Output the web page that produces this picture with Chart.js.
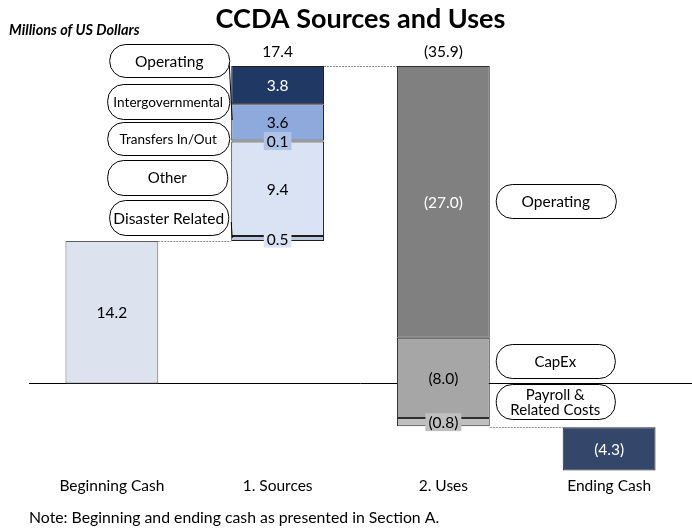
<!DOCTYPE html>
<html><head><meta charset="utf-8">
<script src="https://cdn.jsdelivr.net/npm/chart.js@4.4.1/dist/chart.umd.min.js"></script>
<style>html,body{margin:0;padding:0;background:#fff}#wrap{width:692px;height:531px;position:relative}</style>
</head><body><div id="wrap"><canvas id="c"></canvas></div>
<script>
// ---- data ----
const categories = ['Beginning Cash', '1. Sources', '2. Uses', 'Ending Cash'];
const beginningCash = 14.2;
const sourceNames = ['Disaster Related', 'Other', 'Transfers In/Out', 'Intergovernmental', 'Operating'];
const sourceValues = [0.5, 9.4, 0.1, 3.6, 3.8];
const sourcesTotal = 17.4;
const useNames = ['Operating', 'CapEx', 'Payroll & Related Costs'];
const useValues = [-27.0, -8.0, -0.8];
const usesTotal = -35.9;
const endingCash = -4.3;

// ---- styles ----
const FONT = 'Lato, "Open Sans", sans-serif';
const sourceFill = ['#B9C6DE', '#DAE3F3', '#8EA9DB', '#8EA9DB', '#203864'];
const sourceText = ['#000', '#000', '#000', '#000', '#fff'];
const sourceLabelBg = ['#DAE3F3', null, '#AFC3E6', null, null];
const useFill = ['#808080', '#A6A6A6', '#BFBFBF'];
const useText = ['#fff', '#000', '#000'];
const useLabelBg = [null, null, '#BFBFBF'];

function fmt(v) { return v < 0 ? '(' + Math.abs(v).toFixed(1) + ')' : v.toFixed(1); }
function rowAt(i, range) { const a = categories.map(() => null); a[i] = range; return a; }

const datasets = [];
datasets.push({ label: categories[0], data: rowAt(0, [0, beginningCash]), backgroundColor: '#DDE3EE',
  borderColor: '#5E5E5E', value: beginningCash, textColor: '#000' });
let level = beginningCash;
sourceValues.forEach((v, k) => {
  datasets.push({ label: sourceNames[k], data: rowAt(1, [level, level + v]), backgroundColor: sourceFill[k],
    borderColor: '#1E1E1E', value: v, textColor: sourceText[k], labelBg: sourceLabelBg[k] });
  level += v;
});
const sourcesTop = beginningCash + sourcesTotal;
level = sourcesTop;
useValues.forEach((v, k) => {
  datasets.push({ label: useNames[k], data: rowAt(2, [level, level + v]), backgroundColor: useFill[k],
    borderColor: '#2E2E2E', value: v, textColor: useText[k], labelBg: useLabelBg[k] });
  level += v;
});
const usesBottom = sourcesTop + usesTotal;
datasets.push({ label: categories[3], data: rowAt(3, [usesBottom, usesBottom + endingCash]), backgroundColor: '#34476A',
  borderColor: '#222', value: endingCash, textColor: '#fff' });

datasets.forEach(d => { d.borderWidth = 1; d.borderSkipped = false; d.grouped = false;
  d.barPercentage = 0.56; d.categoryPercentage = 1; });

// callout layout (pixels, relative to bar edges)
const leftCallouts = [
  { top: 200, h: 35, w: 119, gap: 3, size: 15.5 },
  { top: 160, h: 35, w: 120, gap: 4, size: 15 },
  { top: 122, h: 33, w: 122, gap: 2, size: 13.5 },
  { top: 84, h: 35, w: 122, gap: 2, size: 13.6 },
  { top: 44, h: 33, w: 120, gap: 2, size: 15.5 }
];
const rightCallouts = [
  { top: 184, h: 34, w: 120, gap: 6, size: 15.5 },
  { top: 344, h: 34, w: 119, gap: 6, size: 15 },
  { top: 384, h: 35, w: 119, gap: 6, size: 15 }
];

function roundRect(ctx, x, y, w, h, r) {
  ctx.beginPath();
  ctx.moveTo(x + r, y); ctx.lineTo(x + w - r, y); ctx.arcTo(x + w, y, x + w, y + r, r);
  ctx.lineTo(x + w, y + h - r); ctx.arcTo(x + w, y + h, x + w - r, y + h, r);
  ctx.lineTo(x + r, y + h); ctx.arcTo(x, y + h, x, y + h - r, r);
  ctx.lineTo(x, y + r); ctx.arcTo(x, y, x + r, y, r); ctx.closePath();
}

const decorPlugin = {
  id: 'decor',
  afterDatasetsDraw(chart) {
    const ctx = chart.ctx, ys = chart.scales.y;
    const el = (di, ci) => chart.getDatasetMeta(di).data[ci];
    const nSrc = sourceValues.length, nUse = useValues.length;
    const begin = el(0, 0), srcBottom = el(1, 1), srcTop = el(nSrc, 1);
    const useTop = el(nSrc + 1, 2), useBot = el(nSrc + nUse, 2), endEl = el(nSrc + nUse + 1, 3);
    ctx.save();
    // dotted connectors
    ctx.strokeStyle = '#8C8C8C'; ctx.lineWidth = 1; ctx.setLineDash([2, 1]);
    const conn = (x1, x2, v) => { const y = Math.round(ys.getPixelForValue(v)) + 0.5;
      ctx.beginPath(); ctx.moveTo(x1, y); ctx.lineTo(x2, y); ctx.stroke(); };
    conn(begin.x + begin.width / 2, srcBottom.x - srcBottom.width / 2, beginningCash);
    conn(srcTop.x + srcTop.width / 2, useTop.x - useTop.width / 2, sourcesTop);
    conn(useBot.x + useBot.width / 2, endEl.x - endEl.width / 2, usesBottom);
    ctx.setLineDash([]);
    // value labels
    ctx.textAlign = 'center'; ctx.textBaseline = 'middle';
    ctx.font = '15.5px ' + FONT;
    chart.data.datasets.forEach((d, di) => {
      const ci = d.data.findIndex(v => v !== null);
      const e = el(di, ci);
      const cy = (e.y + e.base) / 2;
      const txt = fmt(d.value);
      if (d.labelBg) {
        const w = ctx.measureText(txt).width + 6;
        ctx.fillStyle = d.labelBg; ctx.fillRect(e.x - w / 2, cy - 9, w, 18);
      }
      ctx.fillStyle = d.textColor; ctx.fillText(txt, e.x, cy + 1);
    });
    // totals above bars
    ctx.fillStyle = '#000';
    ctx.fillText(fmt(sourcesTotal), srcTop.x, srcTop.y - 14);
    ctx.fillText(fmt(usesTotal), useTop.x, useTop.y - 14);
    // callouts
    ctx.strokeStyle = '#000'; ctx.lineWidth = 1;
    const drawBox = (x, y, w, h, text, size) => {
      roundRect(ctx, x + 0.5, y + 0.5, w, h, 16);
      ctx.fillStyle = '#fff'; ctx.fill(); ctx.stroke();
      ctx.fillStyle = '#000'; ctx.font = size + 'px ' + FONT;
      const lines = text.indexOf('& ') > 0 ? text.replace('& ', '&\n').split('\n') : [text];
      const lh = size * 1.0;
      lines.forEach((ln, i) => ctx.fillText(ln, x + w / 2, y + h / 2 + 1 + (i - (lines.length - 1) / 2) * lh));
    };
    // leader lines
    const sl = srcTop.x - srcTop.width / 2;
    ctx.beginPath(); ctx.moveTo(sl - 2, 63); ctx.lineTo(sl + 1, 120); ctx.stroke();
    ctx.beginPath(); ctx.moveTo(sl, 222); ctx.lineTo(sl + 1, 238); ctx.stroke();
    sourceNames.forEach((n, k) => { const c = leftCallouts[k];
      drawBox(sl - c.gap - c.w, c.top, c.w, c.h, n, c.size); });
    const ur = useTop.x + useTop.width / 2;
    useNames.forEach((n, k) => { const c = rightCallouts[k];
      drawBox(ur + c.gap, c.top, c.w, c.h, n, c.size); });
    // units note
    ctx.textAlign = 'left'; ctx.font = 'italic bold 14.5px ' + FONT; ctx.fillStyle = '#000';
    ctx.fillText('Millions of US Dollars', 9, 30);
    ctx.restore();
  }
};

new Chart(document.getElementById('c'), {
  type: 'bar',
  data: { labels: categories, datasets },
  plugins: [decorPlugin],
  options: {
    responsive: true, maintainAspectRatio: false, animation: false,
    layout: { padding: { left: 29, right: 0, top: 0, bottom: 0 } },
    plugins: {
      legend: { display: false }, tooltip: { enabled: false },
      title: { display: true, text: 'CCDA Sources and Uses', fullSize: false, color: '#000',
        font: { family: FONT, size: 27, weight: 'bold' }, padding: { top: 3, bottom: 16.6 } },
      subtitle: { display: true, position: 'bottom', align: 'start', color: '#000',
        text: 'Note: Beginning and ending cash as presented in Section A.',
        font: { family: FONT, size: 15.8 }, padding: { top: 11, bottom: 4 } }
    },
    scales: {
      x: { grid: { display: false, drawTicks: false }, border: { display: false },
        ticks: { color: '#000', font: { family: FONT, size: 15.5 }, padding: 2, maxRotation: 0 } },
      y: { min: -9, max: 33, border: { display: false },
        ticks: { display: false, stepSize: 1 },
        grid: { drawTicks: false, lineWidth: 1,
          color: c => (c.tick && c.tick.value === 0 ? '#000' : 'rgba(0,0,0,0)') } }
    }
  }
});
</script></body></html>
